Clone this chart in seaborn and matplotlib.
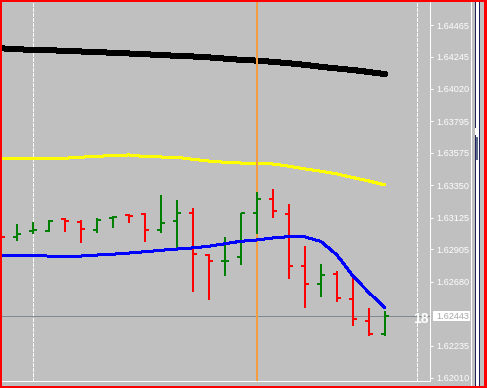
import matplotlib
matplotlib.use("Agg")
import matplotlib.pyplot as plt
import seaborn as sns
import pandas as pd
from matplotlib.patches import Rectangle

# ---------------- data ----------------
bar_index = list(range(25))
open_ = [1.63025, 1.62991, 1.63029, 1.63032, 1.63114, 1.63097, 1.63039, 1.63123,
         1.63145, 1.63149, 1.63039, 1.63102, 1.63155, 1.62865, 1.62824, 1.62854,
         1.63155, 1.63255, 1.63149, 1.62791, 1.62662, 1.62731, 1.62559, 1.62406,
         1.62316]
high = [1.63046, 1.63081, 1.63097, 1.63109, 1.63125, 1.63109, 1.63121, 1.63137,
        1.63149, 1.63160, 1.63283, 1.63248, 1.63190, 1.62872, 1.62989, 1.63155,
        1.63306, 1.63324, 1.63220, 1.62928, 1.62803, 1.62754, 1.62721, 1.62499,
        1.62476]
low = [1.62963, 1.62965, 1.63009, 1.63027, 1.63027, 1.62947, 1.63021, 1.63055,
       1.63086, 1.62958, 1.63016, 1.62912, 1.62610, 1.62552, 1.62721, 1.62796,
       1.63011, 1.63121, 1.62696, 1.62495, 1.62575, 1.62541, 1.62374, 1.62302,
       1.62304]
close = [1.62989, 1.63011, 1.63036, 1.63102, 1.63102, 1.63046, 1.63109, 1.63132,
         1.63140, 1.63039, 1.63090, 1.63160, 1.62872, 1.62826, 1.62827, 1.63155,
         1.63253, 1.63171, 1.62791, 1.62664, 1.62726, 1.62564, 1.62420, 1.62314,
         1.62443]
ma_black = [1.64303, 1.64297, 1.64291, 1.64289, 1.64286, 1.64281, 1.64276, 1.64272,
            1.64267, 1.64262, 1.64256, 1.64251, 1.64246, 1.64240, 1.64231, 1.64223,
            1.64217, 1.64209, 1.64199, 1.64188, 1.64174, 1.64163, 1.64152, 1.64138,
            1.64124]
ma_yellow = [1.63538, 1.63537, 1.63535, 1.63537, 1.63538, 1.63546, 1.63550, 1.63559,
             1.63561, 1.63550, 1.63547, 1.63545, 1.63531, 1.63519, 1.63510, 1.63505,
             1.63503, 1.63498, 1.63483, 1.63464, 1.63448, 1.63429, 1.63404, 1.63380,
             1.63352]
ma_blue = [1.62865, 1.62863, 1.62861, 1.62858, 1.62858, 1.62858, 1.62865, 1.62871,
           1.62879, 1.62888, 1.62898, 1.62907, 1.62915, 1.62926, 1.62944, 1.62961,
           1.62970, 1.62984, 1.62993, 1.62991, 1.62959, 1.62865, 1.62719, 1.62603,
           1.62499]
tick_labels = ["1.64465", "1.64245", "1.64020", "1.63795", "1.63575", "1.63350",
               "1.63125", "1.62905", "1.62680", "1.62235", "1.62010"]
bid_label = "1.62443"
timer_text = "18"
grid_bars = [2, 26]
marker_bar = 16

# ---------------- style ----------------
sns.set_theme(style="white")
plt.rcParams["font.family"] = ["Liberation Sans", "DejaVu Sans"]
plt.rcParams["lines.scale_dashes"] = False
plt.rcParams["lines.antialiased"] = False

W, H = 487, 388
PX = 0.72  # one pixel in points at dpi 100
BG = "#C0C0C0"

fig = plt.figure(figsize=(W / 100, H / 100), dpi=100)
fig.patch.set_facecolor(BG)

ax = fig.add_axes([2 / W, (H - 381) / H, 428 / W, 379 / H])
ax.set_facecolor(BG)
ax.set_xlim(0.0625, 26.8125)
ax.set_ylim(1.61989, 1.64625)

df = pd.DataFrame({"bar": bar_index, "open": open_, "high": high, "low": low,
                   "close": close, "black": ma_black, "yellow": ma_yellow,
                   "blue": ma_blue})

# grid / marker lines
for g in grid_bars:
    ax.axvline(g, color="white", lw=PX, ls=(0, (3 * PX, 2 * PX)), zorder=1)
ax.axvline(marker_bar + 0.03, color="#F39C40", lw=1.5 * PX, zorder=3.5,
           antialiased=False)
ax.axhline(float(bid_label), color="#7F8A90", lw=PX, zorder=2)

# moving averages
sns.lineplot(data=df, x="bar", y="black", color="black", lw=5 * PX, ax=ax,
             legend=False, zorder=3)
sns.lineplot(data=df, x="bar", y="yellow", color="#FFFF00", lw=2 * PX, ax=ax,
             legend=False, zorder=3)
sns.lineplot(data=df, x="bar", y="blue", color="#0000FF", lw=2 * PX, ax=ax,
             legend=False, zorder=5)

# OHLC bars
colors = ["#008000" if c >= o else "#FF0000" for o, c in zip(df["open"], df["close"])]
ax.vlines(df["bar"], df["low"], df["high"], colors=colors, lw=2 * PX, zorder=4)
ax.hlines(df["open"], df["bar"] - 0.28, df["bar"], colors=colors, lw=2 * PX, zorder=4)
ax.hlines(df["close"], df["bar"], df["bar"] + 0.28, colors=colors, lw=2 * PX, zorder=4)

# axes appearance
ax.set_xlabel("")
ax.set_ylabel("")
ax.set_xticks([])
ax.yaxis.tick_right()
ax.set_yticks([float(t) for t in tick_labels], labels=tick_labels)
ax.tick_params(axis="y", colors="white", length=3 * PX, width=PX, pad=3 * PX,
               labelsize=6.6)
for s in ["top", "left"]:
    ax.spines[s].set_visible(False)
for s in ["right", "bottom"]:
    ax.spines[s].set_color("white")
    ax.spines[s].set_linewidth(PX)


def px_rect(x0, y0, x1, y1, **kw):
    fig.add_artist(Rectangle((x0 / W, 1 - y1 / H), (x1 - x0) / W, (y1 - y0) / H,
                             transform=fig.transFigure, lw=0, **kw))


# bid price label and timer
px_rect(432.5, 311, 470, 320.5, fc="white", zorder=10)
fig.text(436 / W, 1 - 319.3 / H, bid_label, color="#A8A8A8", fontsize=6.6,
         va="baseline", ha="left", zorder=11)
fig.text(428.5 / W, 1 - 322.7 / H, timer_text, color="white", fontsize=10,
         fontweight="bold", va="baseline", ha="right", zorder=11)

# right side panel lines and scrollbar
px_rect(471, 2, 472, 386, fc="white", zorder=10)
px_rect(475, 2, 480, 386, fc="white", zorder=10)
px_rect(475, 2, 476, 128, fc="#202060", zorder=11)
px_rect(475, 135, 476, 386, fc="#202060", zorder=11)
px_rect(479, 2, 480, 386, fc="#202060", zorder=11)
px_rect(476, 137, 478, 160, fc="#5A6A8A", zorder=11)

# red frame
px_rect(0, 0, 2, H, fc="red", zorder=20)
px_rect(0, 0, W, 2, fc="red", zorder=20)
px_rect(0, 386, W, H, fc="red", zorder=20)
px_rect(484, 0, W, H, fc="red", zorder=20)

fig.savefig("out.png", dpi=100, facecolor=BG)
